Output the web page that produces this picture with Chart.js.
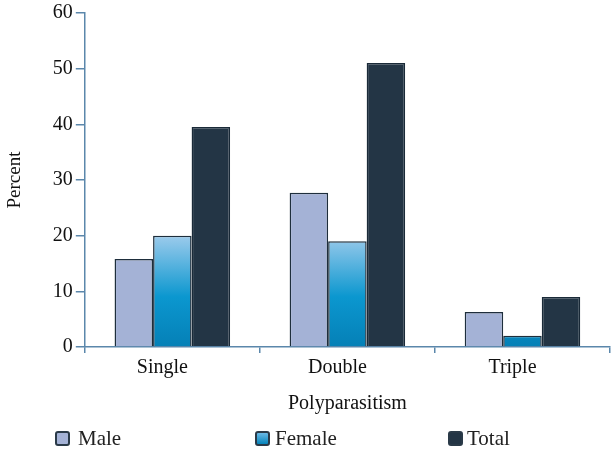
<!DOCTYPE html>
<html>
<head>
<meta charset="utf-8">
<script src="https://cdn.jsdelivr.net/npm/chart.js@4/dist/chart.umd.min.js"></script>
<style>
  html, body { margin: 0; padding: 0; background: #fff; }
  #wrap { position: relative; width: 611px; height: 449px; }
  #legend { position: absolute; top: 426px; left: 0; width: 611px; height: 24px;
            font-family: "Liberation Serif", "DejaVu Serif", serif; font-size: 21px; color: #222; }
  #legend span.item { position: absolute; top: 0; display: flex; align-items: center; line-height: 24px; }
  #legend span.box { display: inline-block; width: 11px; height: 11px; border: 2px solid #2a3a48;
                     border-radius: 3px; }
</style>
</head>
<body>
<div id="wrap">
  <canvas id="polyChart" width="611" height="449"></canvas>
  <div id="legend"></div>
</div>
<script>
const categories = ["Single", "Double", "Triple"];
const maleValues = [15.8, 27.7, 6.3];
const femaleValues = [20.0, 19.0, 2.0];
const totalValues = [39.5, 51.0, 9.0];
const yTicks = [0, 10, 20, 30, 40, 50, 60];

const serif = "'Liberation Serif', 'DejaVu Serif', serif";

function femaleFill(context) {
    const chart = context.chart;
    const area = chart.chartArea;
    if (!area) return '#0a93c9';
    const y = chart.scales.y;
    let g = chart.ctx.createLinearGradient(0, y.getPixelForValue(20), 0, y.getPixelForValue(0));
    g.addColorStop(0, '#9ccbec');
    g.addColorStop(0.55, '#0b97cf');
    g.addColorStop(1, '#0580b6');
    return g;
}

let ctx = document.getElementById("polyChart").getContext("2d");
let polyChart = new Chart(ctx, {
    type: "bar",
    data: {
        labels: categories,
        datasets: [{
            label: "Male",
            data: maleValues,
            backgroundColor: '#a4b2d6',
            borderColor: '#1e2e3c',
            borderWidth: 1.5
        }, {
            label: "Female",
            data: femaleValues,
            backgroundColor: femaleFill,
            borderColor: '#1e2e3c',
            borderWidth: 1.5
        }, {
            label: "Total",
            data: totalValues,
            backgroundColor: '#233545',
            borderColor: '#1a2a38',
            borderWidth: 1.5
        }]
    },
    options: {
        responsive: false,
        animation: false,
        barPercentage: 1,
        categoryPercentage: 0.66,
        layout: { padding: { top: 0, right: 1, bottom: 29, left: 0 } },
        scales: {
            x: {
                offset: true,
                grid: { offset: true, drawOnChartArea: false, color: '#5b87ab', tickLength: 6, lineWidth: 1.5 },
                border: { color: '#5b87ab', width: 1.5 },
                ticks: { color: '#111', font: { family: serif, size: 20 }, padding: 3, labelOffset: -10 },
                title: { display: true, text: "Polyparasitism", color: '#111',
                         font: { family: serif, size: 20 }, padding: { top: 9 } }
            },
            y: {
                min: 0,
                max: 60,
                afterBuildTicks: axis => { axis.ticks = yTicks.map(v => ({ value: v })); },
                grid: { drawOnChartArea: false, color: '#5b87ab', tickLength: 9, lineWidth: 1.5 },
                border: { color: '#5b87ab', width: 1.5 },
                ticks: { color: '#111', font: { family: serif, size: 20, lineHeight: 1.0 }, padding: 3 },
                title: { display: true, text: "Percent", color: '#111',
                         font: { family: serif, size: 19 }, padding: { bottom: 23 } }
            }
        },
        plugins: {
            legend: { display: false },
            tooltip: { enabled: false }
        }
    }
});

// legend drawn as html under the chart
const legendItems = [
    { text: "Male", color: '#a4b2d6', left: 55, gap: 8 },
    { text: "Female", color: 'linear-gradient(#6ab9e6, #0584bb)', left: 255, gap: 5 },
    { text: "Total", color: '#233545', left: 448, gap: 4 }
];
const legendEl = document.getElementById("legend");
legendItems.forEach(it => {
    let s = document.createElement("span");
    s.className = "item";
    s.style.left = it.left + "px";
    s.innerHTML = '<span class="box" style="background:' + it.color + ';margin-right:' + it.gap + 'px"></span>' + it.text;
    legendEl.appendChild(s);
});
</script>
</body>
</html>
